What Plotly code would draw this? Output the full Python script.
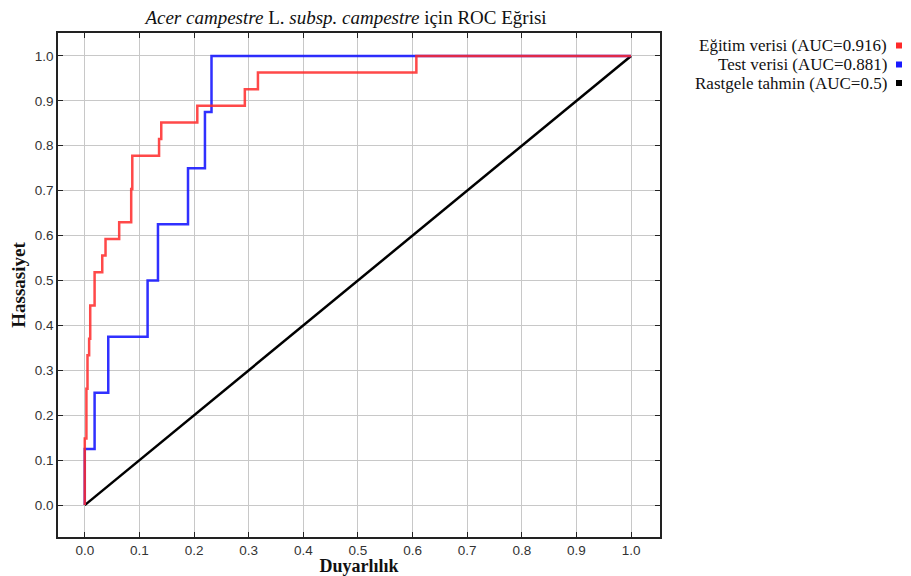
import plotly.graph_objects as go

# Training ROC (vertical then horizontal steps)
train_fpr = [0.0, 0.0, 0.003, 0.005, 0.008, 0.010, 0.018, 0.032, 0.038, 0.063, 0.085, 0.087, 0.136, 0.140, 0.206, 0.293, 0.317, 0.607, 1.0]
train_tpr = [0.0, 0.0, 4/27, 7/27, 9/27, 10/27, 12/27, 14/27, 15/27, 16/27, 17/27, 19/27, 21/27, 22/27, 23/27, 24/27, 25/27, 26/27, 1.0]
# Test ROC
test_fpr = [0.0, 0.0, 0.018, 0.043, 0.115, 0.134, 0.189, 0.220, 0.232, 1.0]
test_tpr = [0.0, 0.0, 0.125, 0.250, 0.375, 0.500, 0.625, 0.750, 0.875, 1.0]
# Random guess
rand_x = [0.0, 1.0]
rand_y = [0.0, 1.0]

labels = ["Eğitim verisi (AUC=0.916)", "Test verisi (AUC=0.881)", "Rastgele tahmin (AUC=0.5)"]
colors = ["#ff2a2a", "#1a1aff", "#000000"]
tick_vals = [0.0, 0.1, 0.2, 0.3, 0.4, 0.5, 0.6, 0.7, 0.8, 0.9, 1.0]
tick_text = ["0.0", "0.1", "0.2", "0.3", "0.4", "0.5", "0.6", "0.7", "0.8", "0.9", "1.0"]

W, H = 903, 568
ML, MR, MT, MB = 50, 251, 25, 39
PW, PH = W - ML - MR, H - MT - MB

fig = go.Figure()
fig.add_trace(go.Scatter(x=rand_x, y=rand_y, mode="lines", line=dict(color=colors[2], width=2.5),
                         name=labels[2], showlegend=False))
fig.add_trace(go.Scatter(x=test_fpr, y=test_tpr, mode="lines", line=dict(color=colors[1], width=2.5, shape="vh"),
                         name=labels[1], showlegend=False, opacity=0.9))
fig.add_trace(go.Scatter(x=train_fpr, y=train_tpr, mode="lines", line=dict(color=colors[0], width=2.5, shape="vh"),
                         name=labels[0], showlegend=False, opacity=0.85))

axis_common = dict(
    showgrid=True, gridcolor="#c8c8c8", gridwidth=1, zeroline=False,
    showline=True, linecolor="#222222", linewidth=1.5, mirror="ticks",
    ticks="inside", ticklen=5, tickcolor="#222222", tickwidth=1.2,
    tickvals=tick_vals, ticktext=tick_text, automargin=False,
    tickfont=dict(family="Liberation Sans, Arial", size=13.5, color="#333333"),
)

fig.update_xaxes(range=[-0.049, 1.053],
                 title=dict(text="<b>Duyarlılık</b>", standoff=8,
                            font=dict(family="Liberation Serif, Times New Roman", size=18, color="#111111")),
                 **axis_common)
fig.update_yaxes(range=[-0.071, 1.051],
                 title=dict(text="<b>Hassasiyet</b>", standoff=10,
                            font=dict(family="Liberation Serif, Times New Roman", size=19, color="#111111")),
                 **axis_common)

annotations = []
shapes = []
rows_px = [37.5, 56.5, 75]  # row centres, figure pixels from top
for lab, col, yp in zip(labels, colors, rows_px):
    yc = (MT + PH - yp) / PH
    annotations.append(dict(xref="paper", yref="paper", x=(881 - ML) / PW, y=yc,
                            xanchor="right", yanchor="middle", text=lab, showarrow=False,
                            font=dict(family="Liberation Serif, Times New Roman", size=17, color="#111111")))
    shapes.append(dict(type="rect", xref="paper", yref="paper",
                       x0=(888 - ML) / PW, x1=(894 - ML) / PW,
                       y0=yc - 3 / PH, y1=yc + 3 / PH, fillcolor=col, line=dict(width=0)))

fig.update_layout(
    width=W, height=H,
    margin=dict(l=ML, r=MR, t=MT, b=MB),
    paper_bgcolor="white", plot_bgcolor="white",
    title=dict(text="<i>Acer campestre</i> L. <i>subsp. campestre</i> için ROC Eğrisi",
               x=338 / W, xanchor="center", y=1 - 9 / H, yanchor="middle",
               font=dict(family="Liberation Serif, Times New Roman", size=19, color="#111111")),
    annotations=annotations, shapes=shapes, showlegend=False,
)

fig.write_html("out.html")
